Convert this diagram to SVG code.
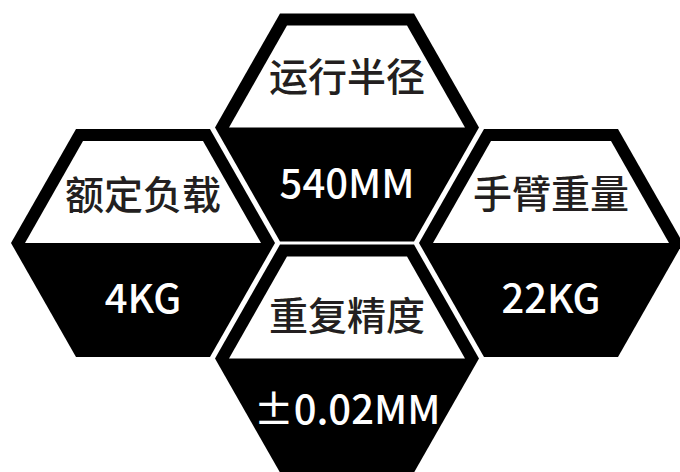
<svg xmlns="http://www.w3.org/2000/svg" width="680" height="472" viewBox="0 0 680 472">
<style>
.hex{fill:#000}
.top{fill:#fff}
.lbl{font-family:"Noto Sans CJK SC","Noto Sans",sans-serif;font-size:39px;font-weight:500;fill:#231f20;text-anchor:middle}
.val{font-family:"Noto Sans CJK SC","Noto Sans",sans-serif;font-size:40px;font-weight:500;fill:#fff;text-anchor:middle}
</style>
<defs>
<polygon id="hexShape" points="-67,-114 67,-114 132,0 67,114 -67,114 -132,0"/>
<polygon id="topShape" points="-60,-102 60,-102 118,0 -118,0"/>
</defs>
<rect width="680" height="472" fill="#fff"/>
<g id="node-radius" transform="translate(347,127.5)">
<use href="#hexShape" class="hex"/>
<use href="#topShape" class="top"/>
<text class="lbl" x="0" y="-37">运行半径</text>
<text class="val" x="0" y="70">540MM</text>
</g>
<g id="node-payload" transform="translate(143,243)">
<use href="#hexShape" class="hex"/>
<use href="#topShape" class="top"/>
<text class="lbl" x="0" y="-34">额定负载</text>
<text class="val" x="0" y="70">4KG</text>
</g>
<g id="node-armweight" transform="translate(551,243)">
<use href="#hexShape" class="hex"/>
<use href="#topShape" class="top"/>
<text class="lbl" x="0" y="-35">手臂重量</text>
<text class="val" x="0" y="70">22KG</text>
</g>
<g id="node-repeatability" transform="translate(347,358.5)">
<use href="#hexShape" class="hex"/>
<use href="#topShape" class="top"/>
<text class="lbl" x="0" y="-29">重复精度</text>
<text class="val" x="0" y="65">±0.02MM</text>
</g>
</svg>
